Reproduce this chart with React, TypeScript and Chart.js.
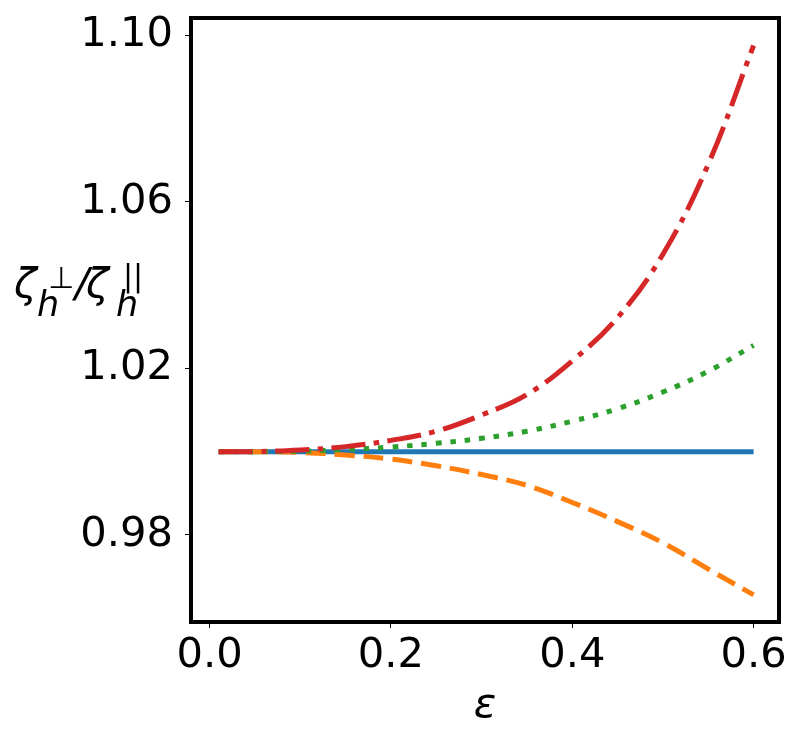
import { useEffect, useRef } from "react"
import { Chart, registerables } from "chart.js"

Chart.register(...registerables)

// eps values along the x axis
const eps = [0.01, 0.05, 0.1, 0.15, 0.2, 0.25, 0.3, 0.35, 0.4, 0.45, 0.5, 0.55, 0.6]

// zeta_perp / zeta_par
const blueVals = [1.0, 1.0, 1.0, 1.0, 1.0, 1.0, 1.0, 1.0, 1.0, 1.0, 1.0, 1.0, 1.0]
const orangeVals = [1.0, 1.0, 0.9998, 0.9992, 0.9982, 0.9966, 0.9945, 0.9919, 0.9878, 0.9832, 0.9781, 0.9718, 0.9656]
const greenVals = [1.0, 1.0, 1.0001, 1.0005, 1.0011, 1.002, 1.0032, 1.0049, 1.0073, 1.0103, 1.0143, 1.0193, 1.0255]
const redVals = [1.0, 1.0, 1.0004, 1.0012, 1.0027, 1.0049, 1.0088, 1.0137, 1.0218, 1.0322, 1.0474, 1.069, 1.0975]

const xTicks = [0.0, 0.2, 0.4, 0.6]
const yTicks = [0.98, 1.02, 1.06, 1.1]

const FONT = "'DejaVu Sans', sans-serif"
const FS = 41.67

const toPoints = (vals: number[]) => vals.map((v, i) => ({ x: eps[i], y: v }))

// frame + axis labels drawn on top, like matplotlib spines
const framePlugin = {
  id: "frame",
  afterDraw(chart: Chart) {
    const { ctx, chartArea } = chart
    ctx.save()
    ctx.strokeStyle = "#000"
    ctx.lineWidth = 4
    ctx.strokeRect(chartArea.left, chartArea.top, chartArea.right - chartArea.left, chartArea.bottom - chartArea.top)

    ctx.fillStyle = "#000"
    ctx.textBaseline = "alphabetic"

    // x label
    ctx.font = `oblique ${FS}px ${FONT}`
    ctx.textAlign = "center"
    ctx.fillText("ε", 485, 717)

    // y label: ζ_h^⊥ / ζ_h^||
    ctx.textAlign = "left"
    const big = `oblique ${FS}px ${FONT}`
    const small = `oblique 35px ${FONT}`
    const smallUp = `30px ${FONT}`
    ctx.font = big
    ctx.fillText("ζ", 14, 297)
    ctx.font = small
    ctx.fillText("h", 37, 316)
    ctx.font = smallUp
    ctx.fillText("⊥", 48, 288)
    ctx.font = big
    ctx.fillText("/", 75, 297)
    ctx.fillText("ζ", 86, 297)
    ctx.font = small
    ctx.fillText("h", 116, 316)
    ctx.font = smallUp
    ctx.fillText("||", 123, 286)
    ctx.restore()
  },
}

export default function App() {
  const chartRef = useRef<HTMLCanvasElement>(null)
  const chartInstance = useRef<Chart | null>(null)

  useEffect(() => {
    document.body.style.margin = "0"
    if (!chartRef.current) return
    if (chartInstance.current) chartInstance.current.destroy()
    const ctx = chartRef.current.getContext("2d")
    if (!ctx) return

    chartInstance.current = new Chart(ctx, {
      type: "line",
      data: {
        datasets: [
          { data: toPoints(redVals), borderColor: "#d62728", borderWidth: 5, borderDash: [34, 8.5, 5.5, 8.5] },
          { data: toPoints(greenVals), borderColor: "#2ca02c", borderWidth: 5, borderDash: [5.5, 9] },
          { data: toPoints(orangeVals), borderColor: "#ff7f0e", borderWidth: 5, borderDash: [20, 9] },
          { data: toPoints(blueVals), borderColor: "#1f77b4", borderWidth: 5 },
        ],
      },
      options: {
        responsive: false,
        animation: false,
        layout: { padding: { left: 0, right: 21, top: 18, bottom: 0 } },
        elements: {
          point: { radius: 0 },
          line: { tension: 0.4, borderCapStyle: "butt", fill: false },
        },
        plugins: { legend: { display: false }, tooltip: { enabled: false } },
        scales: {
          x: {
            type: "linear",
            min: -0.0205,
            max: 0.628,
            afterFit: (s: any) => {
              s.height = 119
              s.paddingLeft = 0
              s.paddingRight = 0
            },
            afterBuildTicks: (s: any) => {
              s.ticks = xTicks.map((v) => ({ value: v }))
            },
            grid: { display: true, drawOnChartArea: false, drawTicks: true, tickLength: 6, color: "#000", lineWidth: 1 },
            border: { display: false },
            ticks: {
              padding: 3,
              color: "#000",
              font: { family: FONT, size: FS },
              maxRotation: 0,
              callback: (v: any) => Number(v).toFixed(1),
            },
          },
          y: {
            type: "linear",
            min: 0.9591,
            max: 1.1041,
            afterFit: (s: any) => {
              s.width = 191
              s.paddingTop = 0
              s.paddingBottom = 0
            },
            afterBuildTicks: (s: any) => {
              s.ticks = yTicks.map((v) => ({ value: v }))
            },
            grid: { display: true, drawOnChartArea: false, drawTicks: true, tickLength: 6, color: "#000", lineWidth: 1 },
            border: { display: false },
            ticks: {
              padding: 12,
              color: "#000",
              font: { family: FONT, size: FS },
              callback: (v: any) => Number(v).toFixed(2),
            },
          },
        },
      },
      plugins: [framePlugin],
    })

    return () => {
      if (chartInstance.current) {
        chartInstance.current.destroy()
        chartInstance.current = null
      }
    }
  }, [])

  return (
    <div style={{ width: 800, height: 741, background: "#fff" }}>
      <canvas ref={chartRef} width={800} height={741} />
    </div>
  )
}
